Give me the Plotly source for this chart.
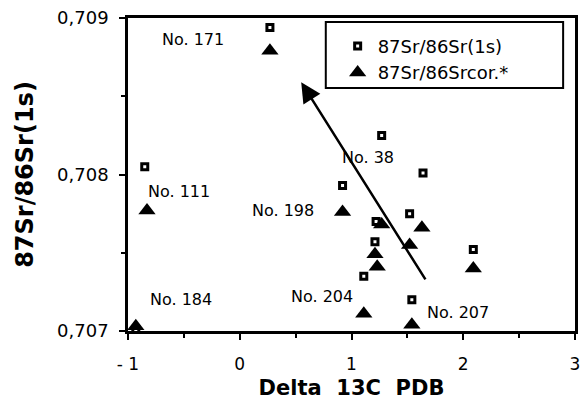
import plotly.graph_objects as go

# Data
sq_x = [0.27, -0.85, -0.93, 1.27, 1.64, 0.92, 1.22, 1.52, 1.21, 1.11, 2.09, 1.54]
sq_y = [0.70894, 0.70805, 0.70701, 0.70825, 0.70801, 0.70793, 0.70770, 0.70775,
        0.70757, 0.70735, 0.70752, 0.70720]
tri_x = [0.27, -0.83, -0.93, 0.92, 1.27, 1.63, 1.52, 1.21, 1.23, 2.09, 1.11, 1.54]
tri_y = [0.70879, 0.70777, 0.70703, 0.70776, 0.70768, 0.70766, 0.70755, 0.70749,
         0.70741, 0.70740, 0.70711, 0.70704]

labels = ["No. 171", "No. 111", "No. 184", "No. 38", "No. 198", "No. 204", "No. 207"]
label_x = [-0.42, -0.54, -0.53, 1.15, 0.39, 0.74, 1.95]
label_y = [0.70886, 0.70789, 0.70720, 0.70811, 0.70777, 0.70722, 0.70712]

arrow_tail = (1.67, 0.70732)
arrow_tip = (0.55, 0.70859)

x_ticks = [-1, 0, 1, 2, 3]
x_ticktext = ["- 1", "0", "1", "2", "3"]
y_ticks = [0.707, 0.708, 0.709]
y_ticktext = ["0,707", "0,708", "0,709"]

FONT = "DejaVu Sans"

fig = go.Figure()
fig.add_trace(go.Scatter(
    x=sq_x, y=sq_y, mode="markers", name="87Sr/86Sr(1s)",
    marker=dict(symbol="square-open", size=6, color="black", line=dict(width=3, color="black")),
    cliponaxis=False))
fig.add_trace(go.Scatter(
    x=tri_x, y=tri_y, mode="markers", name="87Sr/86Srcor.*",
    marker=dict(symbol="triangle-up", size=15, color="black", line=dict(width=0)),
    cliponaxis=False))

for t, x, y in zip(labels, label_x, label_y):
    fig.add_annotation(x=x, y=y, text=t, showarrow=False, xanchor="center", yanchor="middle",
                       font=dict(family=FONT, size=16, color="black"))

fig.add_annotation(x=arrow_tip[0], y=arrow_tip[1], ax=arrow_tail[0], ay=arrow_tail[1],
                   xref="x", yref="y", axref="x", ayref="y", text="", showarrow=True,
                   arrowhead=2, arrowsize=1.6, arrowwidth=2.5, arrowcolor="black")

# legend box
fig.add_shape(type="rect", xref="paper", yref="paper",
              x0=(328 - 128) / 452, x1=(568 - 128) / 452,
              y0=(334 - 87) / 318, y1=(334 - 20) / 318,
              line=dict(color="black", width=2), fillcolor="white", layer="below")

fig.update_layout(
    width=587, height=404,
    margin=dict(l=128, r=7, t=16, b=70),
    paper_bgcolor="white", plot_bgcolor="white",
    font=dict(family=FONT, color="black"),
    showlegend=True,
    legend=dict(x=(340 - 128) / 452, y=(334 - 26) / 318, xanchor="left", yanchor="top",
                bgcolor="rgba(0,0,0,0)", borderwidth=0,
                font=dict(family=FONT, size=18, color="black"), tracegroupgap=0),
    xaxis=dict(range=[-1, 3], tickvals=x_ticks, ticktext=x_ticktext,
               showgrid=False, zeroline=False, showline=True, linecolor="black", linewidth=2.5,
               mirror=True, ticks="outside", ticklen=6, tickwidth=2, tickcolor="black",
               minor=dict(dtick=0.5, ticks="outside", ticklen=4, tickwidth=1.5, tickcolor="black"),
               tickfont=dict(family=FONT, size=17), ticklabelstandoff=10,
               title=dict(text="<b>Delta  13C  PDB</b>", font=dict(family=FONT, size=21), standoff=8)),
    yaxis=dict(range=[0.707, 0.709], tickvals=y_ticks, ticktext=y_ticktext,
               showgrid=False, zeroline=False, showline=True, linecolor="black", linewidth=2.5,
               mirror=True, ticks="outside", ticklen=6, tickwidth=2, tickcolor="black",
               minor=dict(dtick=0.0005, ticks="outside", ticklen=4, tickwidth=1.5, tickcolor="black"),
               tickfont=dict(family=FONT, size=18), ticklabelstandoff=7,
               title=dict(text="<b>87Sr/86Sr(1s)</b>", font=dict(family=FONT, size=24), standoff=17)),
)

fig.write_html("out.html")
